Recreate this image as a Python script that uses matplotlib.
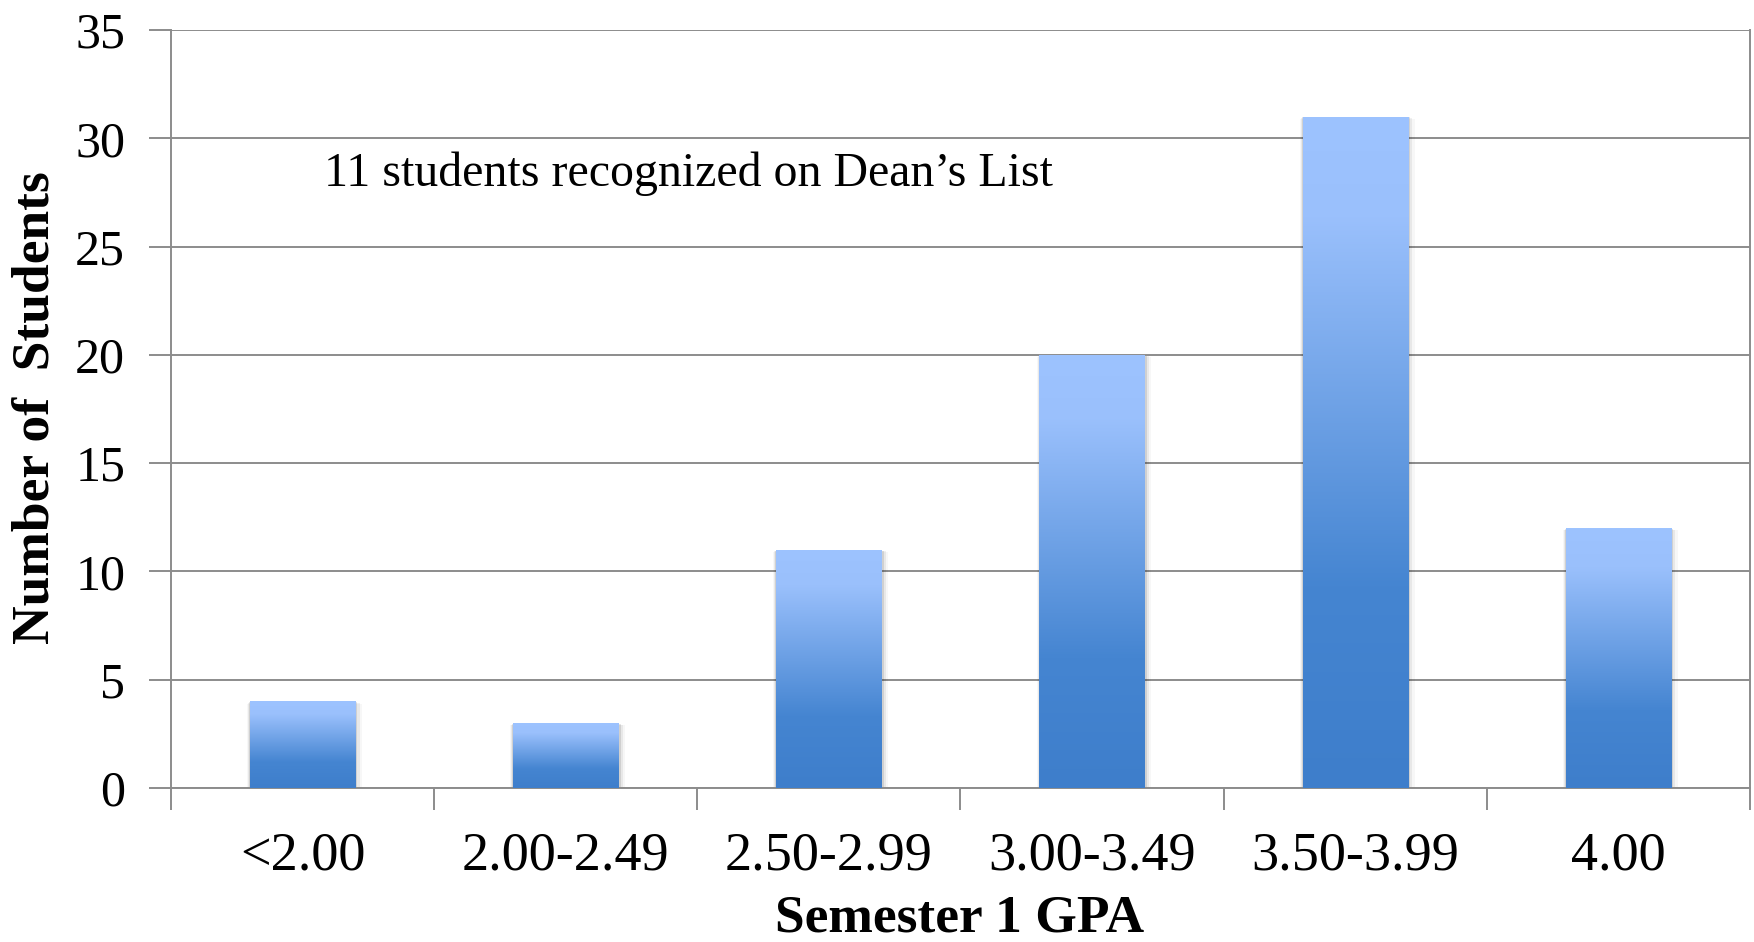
import matplotlib

matplotlib.use("Agg")
import matplotlib.pyplot as plt
import numpy as np
from matplotlib.colors import LinearSegmentedColormap
from matplotlib.patches import Rectangle

# ---- data ------------------------------------------------------------------
categories = ["<2.00", "2.00-2.49", "2.50-2.99", "3.00-3.49", "3.50-3.99", "4.00"]
counts = [4, 3, 11, 20, 31, 12]
y_ticks = [0, 5, 10, 15, 20, 25, 30, 35]
note = "11 students recognized on Dean\u2019s List"

plt.rcParams["font.family"] = ["Liberation Serif", "DejaVu Serif"]

GRID = "#8c8c8c"
W, H = 1754, 942
# gradient: dark at bottom (0) -> light at top (1)
cmap = LinearSegmentedColormap.from_list(
    "bar", [(0.0, "#3e7ecb"), (0.3, "#4585d1"), (0.85, "#9ac0fc"), (1.0, "#9dc3ff")])

fig = plt.figure(figsize=(W / 100, H / 100), dpi=100)
ax = fig.add_axes([171 / W, 1 - 788 / H, (1750 - 171) / W, (788 - 30) / H])

x = np.arange(len(categories))
width = 0.40
bars = ax.bar(x, counts, width=width, color="none", zorder=3)
grad = np.linspace(0, 1, 256).reshape(-1, 1)
for rect in bars:
    x0, w, h = rect.get_x(), rect.get_width(), rect.get_height()
    # soft shadow
    for i, a in enumerate([0.10, 0.06, 0.03]):
        d = 0.012 * (i + 1)
        ax.add_patch(Rectangle((x0 - d * 0.3, -0.05), w + d, h + 0.05 - d * 3,
                               facecolor="black", alpha=a, lw=0, zorder=2))
    im = ax.imshow(grad, extent=(x0, x0 + w, 0, h), origin="lower", aspect="auto",
                   cmap=cmap, zorder=3)
    im.set_clip_path(rect)

ax.set_xlim(-0.5, len(categories) - 0.5)
ax.set_ylim(0, 35)
ax.set_yticks(y_ticks)
ax.set_yticklabels([str(t) for t in y_ticks], fontsize=36)
ax.set_xticks(x)
ax.set_xticklabels(categories, fontsize=39)
ax.set_xticks(np.arange(len(categories) + 1) - 0.5, minor=True)
ax.tick_params(axis="x", which="major", length=0, pad=31)
ax.tick_params(axis="x", which="minor", length=16, width=1.4, color=GRID)
ax.tick_params(axis="y", length=16, width=1.4, color=GRID, pad=17)

ax.yaxis.grid(True, color=GRID, lw=1.4, zorder=0)
ax.set_axisbelow(True)
for s in ["left", "bottom", "right"]:
    ax.spines[s].set_color(GRID)
    ax.spines[s].set_linewidth(1.4)
ax.spines["top"].set_visible(False)

fig.text(960 / W, 1 - 919 / H, "Semester 1 GPA", fontsize=38.5, fontweight="bold",
         ha="center", va="center")
fig.text(36 / W, 1 - 408 / H, "Number of  Students", fontsize=38.5, fontweight="bold",
         rotation=90, ha="center", va="center")

ax.text(0.082, 28.35, note, fontsize=34.5, ha="left", va="center")

fig.savefig("out.png", dpi=100)
